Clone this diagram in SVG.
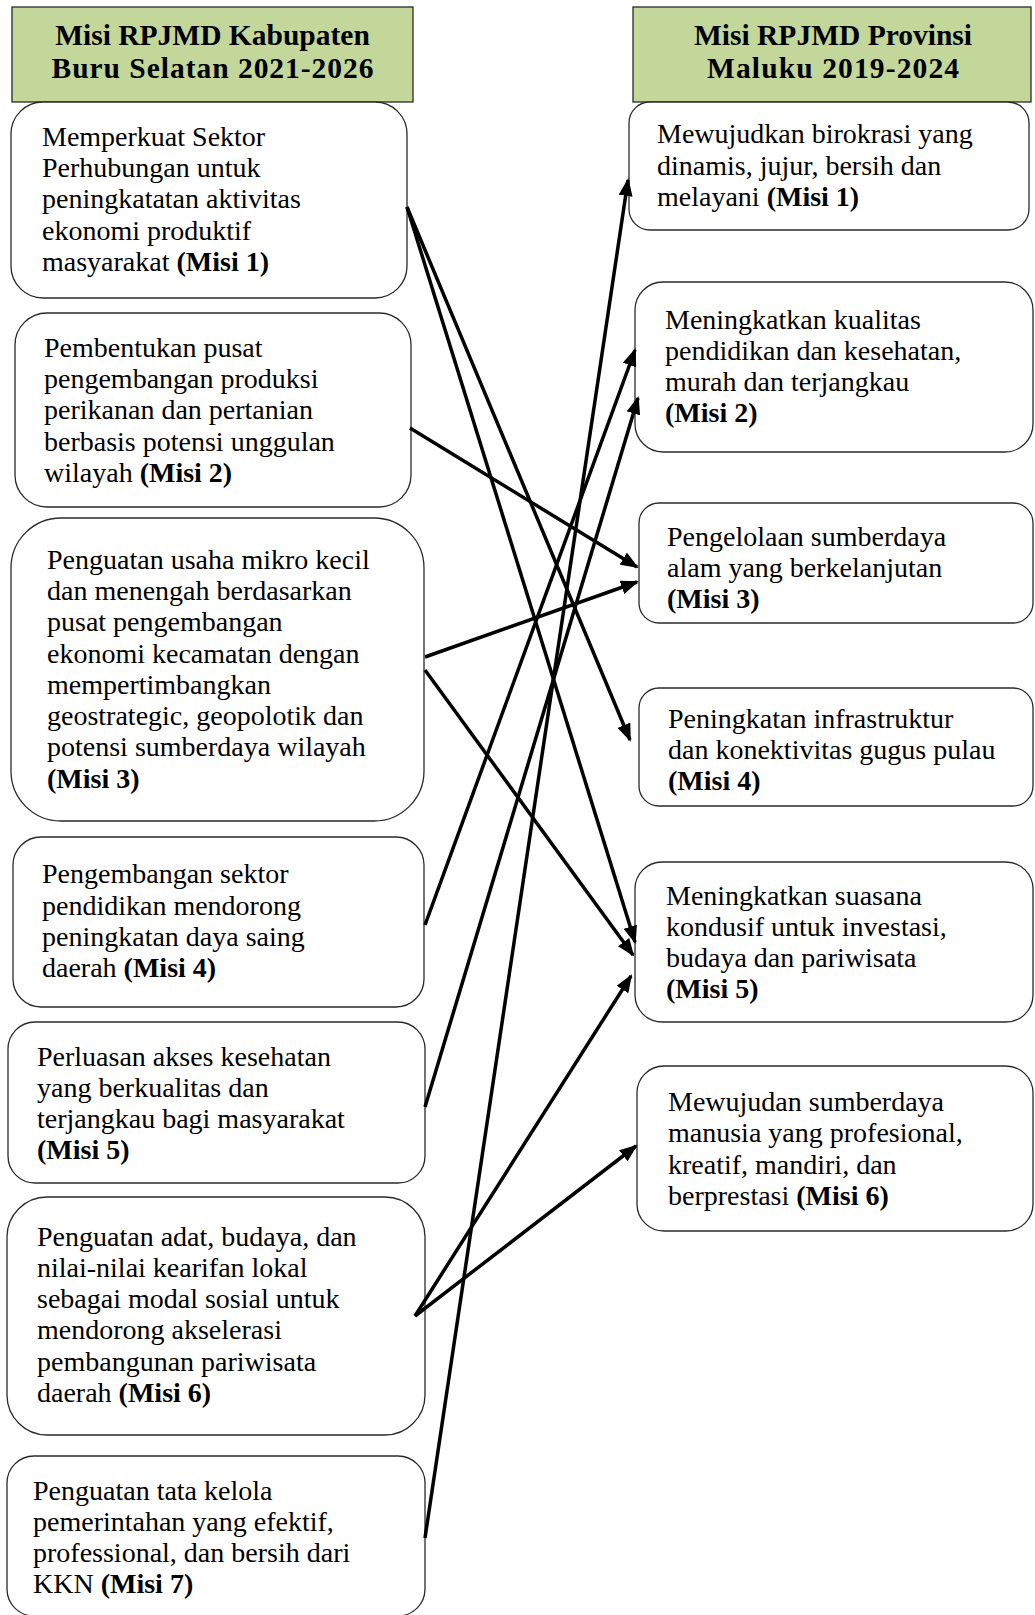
<svg xmlns="http://www.w3.org/2000/svg" width="1035" height="1615" viewBox="0 0 1035 1615">
<style>
.hdr{fill:#c4d79b;stroke:#2a2a2a;stroke-width:1.3}
.box{fill:#fff;stroke:#2a2a2a;stroke-width:1.3}
.ht{font-family:"Liberation Serif",serif;font-weight:bold;font-size:29.5px;fill:#000;text-anchor:middle}
.t{font-family:"Liberation Serif",serif;font-size:28px;fill:#000}
.b{font-weight:bold}
.c{stroke:#000;stroke-width:3.5;fill:none;marker-end:url(#ah)}
</style>
<defs>
<marker id="ah" markerUnits="userSpaceOnUse" markerWidth="18" markerHeight="14" viewBox="0 0 18 14" refX="16" refY="7" orient="auto">
<path d="M0,0 L18,7 L0,14 z" fill="#000"/>
</marker>
</defs>
<rect width="1035" height="1615" fill="#fff"/>

<g id="header-left">
<rect class="hdr" x="12" y="7" width="401" height="95"/>
<text class="ht" x="212.5" y="45">Misi RPJMD Kabupaten</text>
<text class="ht" x="212.5" y="78" textLength="322" lengthAdjust="spacing">Buru Selatan 2021-2026</text>
</g>
<g id="header-right">
<rect class="hdr" x="633" y="7" width="398" height="95"/>
<text class="ht" x="833" y="45">Misi RPJMD Provinsi</text>
<text class="ht" x="833" y="78" textLength="252" lengthAdjust="spacing">Maluku 2019-2024</text>
</g>

<g id="L1">
<rect class="box" x="11" y="102" width="396" height="196" rx="32"/>
<text class="t" x="42" y="146">Memperkuat Sektor</text>
<text class="t" x="42" y="177">Perhubungan untuk</text>
<text class="t" x="42" y="208">peningkatatan aktivitas</text>
<text class="t" x="42" y="240">ekonomi produktif</text>
<text class="t" x="42" y="271">masyarakat <tspan class="b">(Misi 1)</tspan></text>
</g>
<g id="L2">
<rect class="box" x="15" y="313" width="396" height="194" rx="32"/>
<text class="t" x="44" y="357">Pembentukan pusat</text>
<text class="t" x="44" y="388">pengembangan produksi</text>
<text class="t" x="44" y="419">perikanan dan pertanian</text>
<text class="t" x="44" y="451">berbasis potensi unggulan</text>
<text class="t" x="44" y="482">wilayah <tspan class="b">(Misi 2)</tspan></text>
</g>
<g id="L3">
<rect class="box" x="11" y="518" width="413" height="303" rx="50"/>
<text class="t" x="47" y="569">Penguatan usaha mikro kecil</text>
<text class="t" x="47" y="600">dan menengah berdasarkan</text>
<text class="t" x="47" y="631">pusat pengembangan</text>
<text class="t" x="47" y="663">ekonomi kecamatan dengan</text>
<text class="t" x="47" y="694">mempertimbangkan</text>
<text class="t" x="47" y="725">geostrategic, geopolotik dan</text>
<text class="t" x="47" y="756">potensi sumberdaya wilayah</text>
<text class="t b" x="47" y="788">(Misi 3)</text>
</g>
<g id="L4">
<rect class="box" x="13" y="837" width="411" height="170" rx="28"/>
<text class="t" x="42" y="883">Pengembangan sektor</text>
<text class="t" x="42" y="915">pendidikan mendorong</text>
<text class="t" x="42" y="946">peningkatan daya saing</text>
<text class="t" x="42" y="977">daerah <tspan class="b">(Misi 4)</tspan></text>
</g>
<g id="L5">
<rect class="box" x="8" y="1022" width="417" height="161" rx="27"/>
<text class="t" x="37" y="1066">Perluasan akses kesehatan</text>
<text class="t" x="37" y="1097">yang berkualitas dan</text>
<text class="t" x="37" y="1128">terjangkau bagi masyarakat</text>
<text class="t b" x="37" y="1159">(Misi 5)</text>
</g>
<g id="L6">
<rect class="box" x="7" y="1197" width="418" height="238" rx="40"/>
<text class="t" x="37" y="1246">Penguatan adat, budaya, dan</text>
<text class="t" x="37" y="1277">nilai-nilai kearifan lokal</text>
<text class="t" x="37" y="1308">sebagai modal sosial untuk</text>
<text class="t" x="37" y="1339">mendorong akselerasi</text>
<text class="t" x="37" y="1371">pembangunan pariwisata</text>
<text class="t" x="37" y="1402">daerah <tspan class="b">(Misi 6)</tspan></text>
</g>
<g id="L7">
<rect class="box" x="7" y="1456" width="418" height="160" rx="27"/>
<text class="t" x="33" y="1500">Penguatan tata kelola</text>
<text class="t" x="33" y="1531">pemerintahan yang efektif,</text>
<text class="t" x="33" y="1562">professional, dan bersih dari</text>
<text class="t" x="33" y="1593">KKN <tspan class="b">(Misi 7)</tspan></text>
</g>

<g id="R1">
<rect class="box" x="629" y="102" width="400" height="128" rx="21"/>
<text class="t" x="657" y="143">Mewujudkan birokrasi yang</text>
<text class="t" x="657" y="175">dinamis, jujur, bersih dan</text>
<text class="t" x="657" y="206">melayani <tspan class="b">(Misi 1)</tspan></text>
</g>
<g id="R2">
<rect class="box" x="635" y="282" width="398" height="170" rx="28"/>
<text class="t" x="665" y="329">Meningkatkan kualitas</text>
<text class="t" x="665" y="360">pendidikan dan kesehatan,</text>
<text class="t" x="665" y="391">murah dan terjangkau</text>
<text class="t b" x="665" y="422">(Misi 2)</text>
</g>
<g id="R3">
<rect class="box" x="639" y="503" width="394" height="120" rx="20"/>
<text class="t" x="667" y="546">Pengelolaan sumberdaya</text>
<text class="t" x="667" y="577">alam yang berkelanjutan</text>
<text class="t b" x="667" y="608">(Misi 3)</text>
</g>
<g id="R4">
<rect class="box" x="639" y="688" width="394" height="118" rx="20"/>
<text class="t" x="668" y="728">Peningkatan infrastruktur</text>
<text class="t" x="668" y="759">dan konektivitas gugus pulau</text>
<text class="t b" x="668" y="790">(Misi 4)</text>
</g>
<g id="R5">
<rect class="box" x="635" y="862" width="398" height="160" rx="27"/>
<text class="t" x="666" y="905">Meningkatkan suasana</text>
<text class="t" x="666" y="936">kondusif untuk investasi,</text>
<text class="t" x="666" y="967">budaya dan pariwisata</text>
<text class="t b" x="666" y="998">(Misi 5)</text>
</g>
<g id="R6">
<rect class="box" x="637" y="1066" width="396" height="165" rx="27"/>
<text class="t" x="668" y="1111">Mewujudan sumberdaya</text>
<text class="t" x="668" y="1142">manusia yang profesional,</text>
<text class="t" x="668" y="1174">kreatif, mandiri, dan</text>
<text class="t" x="668" y="1205">berprestasi <tspan class="b">(Misi 6)</tspan></text>
</g>

<g id="connectors">
<line class="c" x1="407" y1="207" x2="630" y2="740"/>
<line class="c" x1="407" y1="207" x2="635" y2="942"/>
<line class="c" x1="410" y1="428" x2="637" y2="567"/>
<line class="c" x1="425" y1="657" x2="637" y2="582"/>
<line class="c" x1="425" y1="670" x2="633" y2="955"/>
<line class="c" x1="425" y1="925" x2="635" y2="350"/>
<line class="c" x1="425" y1="1107" x2="638" y2="398"/>
<line class="c" x1="415" y1="1316" x2="631" y2="976"/>
<line class="c" x1="415" y1="1316" x2="636" y2="1146"/>
<line class="c" x1="425" y1="1538" x2="628" y2="180"/>
</g>
</svg>
